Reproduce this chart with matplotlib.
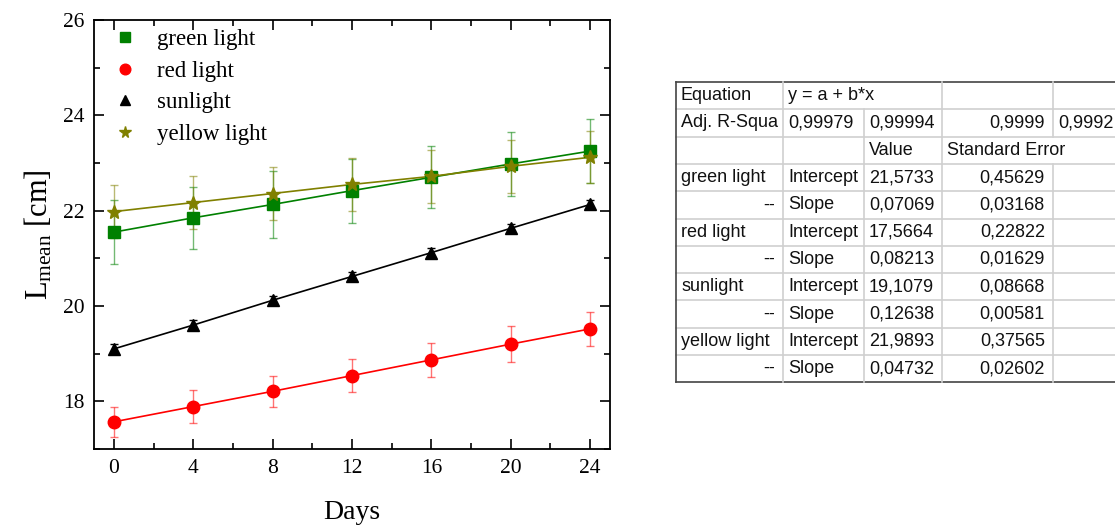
import matplotlib
matplotlib.use("Agg")
import matplotlib.pyplot as plt
from matplotlib.ticker import MultipleLocator

plt.rcParams['font.family'] = ['Liberation Serif', 'DejaVu Serif']
plt.rcParams['mathtext.fontset'] = 'custom'
plt.rcParams['mathtext.rm'] = 'Liberation Serif'

days = [0, 4, 8, 12, 16, 20, 24]
green = [21.55, 21.85, 22.13, 22.42, 22.70, 22.98, 23.25]
green_err = [0.67, 0.65, 0.70, 0.67, 0.65, 0.68, 0.67]
red = [17.57, 17.89, 18.21, 18.54, 18.87, 19.20, 19.52]
red_err = [0.32, 0.35, 0.32, 0.35, 0.35, 0.37, 0.35]
sun = [19.10, 19.60, 20.12, 20.62, 21.12, 21.63, 22.13]
sun_err = [0.10, 0.10, 0.10, 0.09, 0.09, 0.09, 0.09]
yellow = [21.98, 22.17, 22.36, 22.55, 22.72, 22.93, 23.12]
yellow_err = [0.55, 0.55, 0.55, 0.56, 0.55, 0.56, 0.55]

series = [
    ("green light", green, green_err, '#008000', 's', 8),
    ("red light", red, red_err, '#ff0000', 'o', 9),
    ("sunlight", sun, sun_err, '#000000', '^', 9),
    ("yellow light", yellow, yellow_err, '#808000', '*', 10),
]

table_rows = [
    ["Equation", "y = a + b*x", "", "", ""],
    ["Adj. R-Squa", "0,99979", "0,99994", "0,9999", "0,9992"],
    ["", "", "Value", "Standard Error", ""],
    ["green light", "Intercept", "21,5733", "0,45629", ""],
    ["--", "Slope", "0,07069", "0,03168", ""],
    ["red light", "Intercept", "17,5664", "0,22822", ""],
    ["--", "Slope", "0,08213", "0,01629", ""],
    ["sunlight", "Intercept", "19,1079", "0,08668", ""],
    ["--", "Slope", "0,12638", "0,00581", ""],
    ["yellow light", "Intercept", "21,9893", "0,37565", ""],
    ["--", "Slope", "0,04732", "0,02602", ""],
]

W, H = 1115, 528
fig = plt.figure(figsize=(W / 100, H / 100), dpi=100)
ax = fig.add_axes([94 / W, 1 - 449 / H, (610 - 94) / W, (449 - 20) / H])

handles = []
for name, vals, errs, col, mk, ms in series:
    ax.errorbar(days, vals, yerr=errs, fmt='none', ecolor=col, elinewidth=1.0,
                capsize=3, capthick=1.0, alpha=0.55 if col != '#000000' else 1.0, zorder=2)
    ax.plot(days, vals, color=col, lw=1.2, zorder=3)
    h, = ax.plot(days, vals, ls='none', marker=mk, color=col, ms=ms, zorder=4, label=name)
    handles.append(h)

ax.set_xlim(-1, 25)
ax.set_ylim(17, 26)
ax.xaxis.set_major_locator(MultipleLocator(4))
ax.xaxis.set_minor_locator(MultipleLocator(2))
ax.yaxis.set_major_locator(MultipleLocator(2))
ax.yaxis.set_minor_locator(MultipleLocator(1))
ax.tick_params(which='both', direction='in', top=True, right=True, labelsize=15.5, width=1.2)
ax.tick_params(which='major', length=7, pad=7)
ax.tick_params(which='minor', length=4)
for s in ax.spines.values():
    s.set_linewidth(1.3)

ax.set_xlabel("Days", fontsize=20, labelpad=16)
ax.set_ylabel(r"$\mathregular{L_{mean}}$ [cm]", fontsize=22, labelpad=6)

leg = ax.legend(handles=handles, loc='upper left', frameon=False, fontsize=16.5,
                handlelength=1.0, handletextpad=0.9, labelspacing=0.46,
                borderaxespad=0.0, bbox_to_anchor=(0.02, 1.0), markerscale=0.85)

# table drawn in pixel coords
tax = fig.add_axes([0, 0, 1, 1], facecolor='none')
tax.set_xlim(0, W)
tax.set_ylim(H, 0)
tax.axis('off')

col_x = [676, 783, 864, 942, 1053, 1160]
top, rh = 82, 27.3
nrows = len(table_rows)
bottom = top + rh * nrows
grid = '#d0d0d0'
for i in range(1, nrows):
    y = top + rh * i
    tax.plot([col_x[0], W], [y, y], color=grid, lw=1.2)
tax.plot([col_x[0], W], [top, top], color='#444444', lw=1.2)
tax.plot([col_x[0], W], [bottom, bottom], color='#444444', lw=1.2)
tax.plot([col_x[0], col_x[0]], [top, bottom], color='#444444', lw=1.2)
for r in range(nrows):
    y0, y1 = top + rh * r, top + rh * (r + 1)
    for ci in (1, 2, 3, 4):
        if ci == 2 and r == 0:
            continue
        if ci == 4 and r == 2:
            continue
        tax.plot([col_x[ci], col_x[ci]], [y0, y1], color=grid, lw=1.2)

for r, row in enumerate(table_rows):
    yc = top + rh * (r + 0.5)
    for ci, txt in enumerate(row):
        if not txt:
            continue
        if (ci == 3 and txt[0].isdigit()) or (ci == 0 and txt == "--"):
            x = col_x[ci + 1] - 8
            ha = 'right'
        else:
            x = col_x[ci] + 5
            ha = 'left'
        tax.text(x, yc, txt, ha=ha, va='center', fontsize=13,
                 family=['Liberation Sans', 'DejaVu Sans'], color='#111111')

fig.savefig("out.png", dpi=100)
